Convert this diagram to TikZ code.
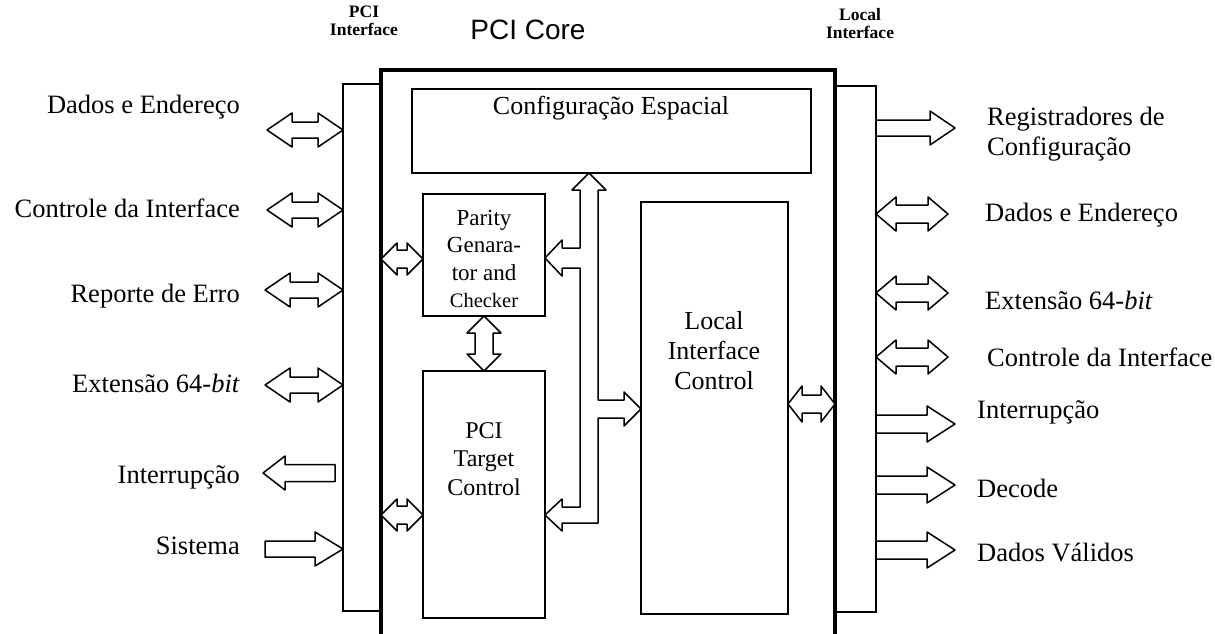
\documentclass[tikz,border=0pt]{standalone}
\usepackage{fontspec}
\setmainfont{Liberation Serif}
\newfontfamily\sansf{Liberation Sans}
\usetikzlibrary{calc}
% double block arrow: from, to, shaft half width, head half width, head length
\newcommand\dblarr[5]{%
  \draw[blk] let \p1=(#1), \p2=(#2), \n1={veclen(\x2-\x1,\y2-\y1)}, \n2={atan2(\y2-\y1,\x2-\x1)} in
   [shift={(\p1)}, rotate=\n2]
   (0pt,0pt) -- (#5pt,#4pt) -- (#5pt,#3pt) -- (\n1-#5pt,#3pt) -- (\n1-#5pt,#4pt) -- (\n1,0pt)
   -- (\n1-#5pt,-#4pt) -- (\n1-#5pt,-#3pt) -- (#5pt,-#3pt) -- (#5pt,-#4pt) -- cycle;}
% single block arrow: tail, tip, shaft half width, head half width, head length
\newcommand\sarr[5]{%
  \draw[blk] let \p1=(#1), \p2=(#2), \n1={veclen(\x2-\x1,\y2-\y1)}, \n2={atan2(\y2-\y1,\x2-\x1)} in
   [shift={(\p1)}, rotate=\n2]
   (0pt,#3pt) -- (\n1-#5pt,#3pt) -- (\n1-#5pt,#4pt) -- (\n1,0pt)
   -- (\n1-#5pt,-#4pt) -- (\n1-#5pt,-#3pt) -- (0pt,-#3pt) -- cycle;}
\tikzset{
  blk/.style={draw=black, fill=white, line width=1.5pt, line join=round},
  boxx/.style={draw=black, line width=1.5pt, inner sep=0pt, outer sep=0pt, anchor=north west},
  barr/.style={inner sep=0pt, outer sep=0pt, anchor=north west},
  coreline/.style={line width=3.5pt},
  barline/.style={line width=1.5pt},
  lbl/.style={font=\fontsize{26.5}{30}\selectfont, inner sep=0pt},
  inlbl/.style={align=center, inner sep=0pt},
  toplbl/.style={font=\fontsize{17.5}{18}\selectfont\bfseries, align=center, inner sep=0pt}
}
\begin{document}
\begin{tikzpicture}[x=1pt,y=-1pt]
\useasboundingbox[fill=white] (0,0) rectangle (1215,634);

% frames
\node[barr, minimum width=38, minimum height=527] (pcibar) at (343,84) {};
\node[barr, minimum width=454, minimum height=570] (core) at (381,70) {};
\node[barr, minimum width=41, minimum height=526] (localbar) at (835,86) {};
\draw[barline] (pcibar.north east) -- (pcibar.north west) -- (pcibar.south west) -- (pcibar.south east);
\draw[barline] (localbar.north west) -- (localbar.north east) -- (localbar.south east) -- (localbar.south west);
\draw[coreline] (core.south west) -- (core.north west) -- (core.north east) -- (core.south east);

% titles
\node[font=\sansf\fontsize{28}{30}\selectfont, inner sep=0pt] (coret) at (528,30) {PCI Core};
\node[toplbl] (pcil) at (364,21) {PCI\\Interface};
\node[toplbl] (locl) at (860,24) {Local\\Interface};

% inner blocks
\node[boxx, minimum width=399, minimum height=84] (cfg) at (412,89) {};
\node[font=\fontsize{26}{30}\selectfont, inner sep=0pt] (cfgt) at (611,108) {Configuração Espacial};
\node[boxx, minimum width=122, minimum height=122] (parity) at (423,194) {};
\node[inlbl, font=\fontsize{23}{27.5}\selectfont] (parityt) at (484,259)
  {Parity\\Genara-\\tor and\\{\fontsize{20.5}{24}\selectfont Checker}};
\node[boxx, minimum width=122, minimum height=247] (target) at (423,371) {};
\node[inlbl, font=\fontsize{24}{28.5}\selectfont] (targett) at (484,459) {PCI\\Target\\Control};
\node[boxx, line width=2.5pt, minimum width=147, minimum height=412] (lic) at (641,202) {};
\node[inlbl, font=\fontsize{26}{30}\selectfont] (lict) at (714,351) {Local\\Interface\\Control};

% left labels
\node[lbl, anchor=east] (ll1) at (240,107) {Dados e Endereço};
\node[lbl, anchor=east] (ll2) at (240,208) {Controle da Interface};
\node[lbl, anchor=east] (ll3) at (240,296) {Reporte de Erro};
\node[lbl, anchor=east] (ll4) at (240,383) {Extensão 64-\textit{bit}};
\node[lbl, anchor=east] (ll5) at (240,477) {Interrupção};
\node[lbl, anchor=east] (ll6) at (240,546) {Sistema};

% right labels
\node[lbl, anchor=west, align=left] (rl1) at (987,134) {Registradores de\\Configuração};
\node[lbl, anchor=west] (rl2) at (985,215) {Dados e Endereço};
\node[lbl, anchor=west] (rl3) at (985,300) {Extensão 64-\textit{bit}};
\node[lbl, anchor=west] (rl4) at (987,357) {Controle da Interface};
\node[lbl, anchor=west] (rl5) at (977,412) {Interrupção};
\node[lbl, anchor=west] (rl6) at (977,488) {Decode};
\node[lbl, anchor=west] (rl7) at (977,552) {Dados Válidos};

% left arrow end points
\coordinate (la1) at (267,130);
\coordinate (la2) at (267,210);
\coordinate (la3) at (265,290);
\coordinate (la4) at (265,385);
\coordinate (la5a) at (335,473);
\coordinate (la5b) at (263,473);
\coordinate (la6) at (265,549);
\dblarr{la1}{pcibar.west |- la1}{8}{17}{25}
\dblarr{la2}{pcibar.west |- la2}{8}{17}{25}
\dblarr{la3}{pcibar.west |- la3}{8}{17}{25}
\dblarr{la4}{pcibar.west |- la4}{8}{17}{25}
\sarr{la5a}{la5b}{8.5}{17}{22}
\sarr{la6}{pcibar.west |- la6}{8}{17}{28}

% right arrow end points
\coordinate (ra1) at (955,128);
\coordinate (ra2) at (948,214);
\coordinate (ra3) at (948,293);
\coordinate (ra4) at (948,357);
\coordinate (ra5) at (955,424);
\coordinate (ra6) at (955,485);
\coordinate (ra7) at (955,550);
\sarr{localbar.east |- ra1}{ra1}{8}{17}{25}
\dblarr{localbar.east |- ra2}{ra2}{9}{17}{20}
\dblarr{localbar.east |- ra3}{ra3}{9}{17}{20}
\dblarr{localbar.east |- ra4}{ra4}{9}{17}{20}
\sarr{localbar.east |- ra5}{ra5}{9}{18}{28}
\sarr{localbar.east |- ra6}{ra6}{9}{18}{28}
\sarr{localbar.east |- ra7}{ra7}{9}{18}{28}

% inner arrows
\coordinate (pa) at (381,259);
\coordinate (ta) at (381,515);
\coordinate (lo) at (788,404);
\dblarr{pa}{parity.west |- pa}{9}{16}{16}
\dblarr{ta}{target.west |- ta}{9}{16}{16}
\dblarr{parity.south}{target.north}{9}{17}{17}
\dblarr{lo}{localbar.west |- lo}{9}{18}{14}

% branched internal bus
\draw[blk] (589,0 |- cfg.south) -- (606,190) -- (598,190) -- (598,400) -- (624,400) -- (624,392)
  -- (lic.west |- 0,409) -- (624,426) -- (624,418) -- (598,418) -- (598,523) -- (562,523) -- (562,531)
  -- (target.east |- 0,515) -- (562,499) -- (562,507) -- (580,507) -- (580,268) -- (562,268) -- (562,276)
  -- (parity.east |- 0,258) -- (562,240) -- (562,248) -- (580,248) -- (580,190) -- (572,190) -- cycle;
\end{tikzpicture}
\end{document}
